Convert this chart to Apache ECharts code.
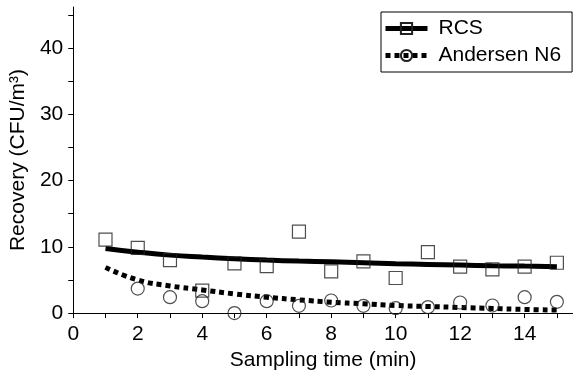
<!DOCTYPE html>
<html>
<head>
<meta charset="utf-8">
<script src="https://cdn.jsdelivr.net/npm/echarts@6/dist/echarts.min.js"></script>
<style>html,body{margin:0;padding:0;background:#fff}#c{width:573px;height:376px}</style>
</head>
<body>
<div id="c"></div>
<script>
const times = [1,2,3,4,5,6,7,8,9,10,11,12,13,14,15];
const rcsPoints = [11.1,9.85,8.0,3.4,7.5,7.1,12.3,6.3,7.8,5.3,9.2,7.0,6.6,7.0,7.6];
const andersenTimes = [2,3,4,5,6,7,8,9,10,11,12,13,14,15];
const andersenPoints = [3.7,2.4,1.8,0,1.8,1.1,1.9,1.1,0.75,0.9,1.6,1.15,2.4,1.7];
const rcsFit = [9.75,9.2,8.75,8.45,8.2,8.0,7.85,7.75,7.6,7.45,7.35,7.25,7.15,7.1,7.0];
const andersenFit = [6.9,5.0,4.1,3.5,2.9,2.4,2.0,1.65,1.4,1.15,1.0,0.85,0.7,0.55,0.45];
const xTicks = [0,1,2,3,4,5,6,7,8,9,10,11,12,13,14,15];
const xLabels = [0,2,4,6,8,10,12,14];
const yTicks = [0,5,10,15,20,25,30,35,40,45];
const yLabels = [0,10,20,30,40];

const font = "'Liberation Sans', Arial, sans-serif";
const chart = echarts.init(document.getElementById('c'));
const hollow = {color:'rgba(0,0,0,0)', borderColor:'#222', borderWidth:1.2};
const zip = (xs, ys) => xs.map((x,i)=>[x, ys[i]]);

chart.setOption({
  animation:false,
  grid:{left:73, right:0, top:7, bottom:60, containLabel:false},
  xAxis:{
    type:'value', min:0, max:15.5,
    name:'Sampling time (min)', nameLocation:'middle', nameGap:34,
    nameTextStyle:{fontFamily:font, fontSize:21, color:'#000'},
    axisLine:{lineStyle:{color:'#000', width:1}},
    axisTick:{show:true, length:5, inside:false, customValues:xTicks, lineStyle:{color:'#000'}},
    axisLabel:{customValues:xLabels, margin:11, fontFamily:font, fontSize:21, color:'#000'},
    splitLine:{show:false}
  },
  yAxis:{
    type:'value', min:0, max:46.2,
    name:'Recovery (CFU/m³)', nameLocation:'middle', nameGap:41,
    nameTextStyle:{fontFamily:font, fontSize:21, color:'#000'},
    axisLine:{show:true, lineStyle:{color:'#000', width:1}},
    axisTick:{show:true, length:5, inside:false, customValues:yTicks, lineStyle:{color:'#000'}},
    axisLabel:{customValues:yLabels, margin:10, fontFamily:font, fontSize:21, color:'#000'},
    splitLine:{show:false}
  },
  legend:{
    left:381, top:12,
    orient:'vertical',
    data:[
      {name:'RCS', lineStyle:{width:5, color:'#000'}},
      {name:'Andersen N6', lineStyle:{width:5, color:'#000', type:[5,4]}}
    ],
    itemWidth:42, itemHeight:14, itemGap:6,
    padding:[6,11,6,2],
    borderColor:'#000', borderWidth:1, borderRadius:0,
    backgroundColor:'#fff',
    textStyle:{fontFamily:font, fontSize:21, color:'#000', padding:[0,0,0,6]}
  },
  series:[
    {
      name:'RCS', type:'line', data:zip(times, rcsFit), smooth:true,
      symbol:'rect', showSymbol:false, symbolSize:12,
      lineStyle:{color:'#000', width:5},
      itemStyle:hollow, z:2
    },
    {
      name:'Andersen N6', type:'line', data:zip(times, andersenFit), smooth:true,
      symbol:'circle', showSymbol:false, symbolSize:12,
      lineStyle:{color:'#000', width:5, type:[5,4], cap:'butt'},
      itemStyle:hollow, z:2
    },
    {
      name:'RCS points', type:'scatter', data:zip(times, rcsPoints),
      symbol:'rect', symbolSize:13, itemStyle:hollow, z:3
    },
    {
      name:'Andersen points', type:'scatter', data:zip(andersenTimes, andersenPoints),
      symbol:'circle', symbolSize:13, itemStyle:hollow, z:3
    }
  ]
});
</script>
</body>
</html>
